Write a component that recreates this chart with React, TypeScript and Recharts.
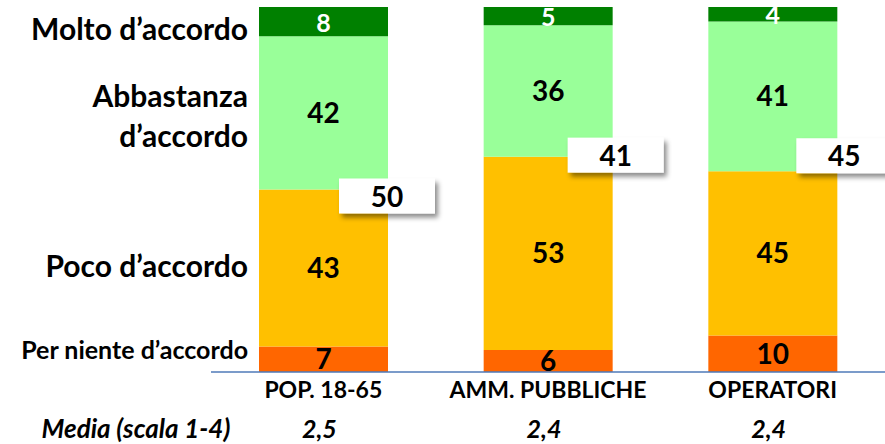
import React from "react"
import { BarChart, Bar, XAxis, YAxis, LabelList } from "recharts"

const categories = ["POP. 18-65", "AMM. PUBBLICHE", "OPERATORI"]
const perNiente = [7, 6, 10]
const poco = [43, 53, 45]
const abbastanza = [42, 36, 41]
const molto = [8, 5, 4]
const accordoTot = [50, 41, 45]
const media = ["2,5", "2,4", "2,4"]
const mediaTitle = "Media (scala 1-4)"

const data = categories.map((cat, i) => ({
  cat,
  perNiente: perNiente[i],
  poco: poco[i],
  abbastanza: abbastanza[i],
  molto: molto[i],
  tot: accordoTot[i],
}))

const FONT = "Lato, 'Noto Sans', sans-serif"

// series look + where the name sits next to the first bar
const series = [
  { key: "perNiente", lines: ["Per niente d’accordo"], fill: "#FF6600", color: "#000", size: 28, nameSize: 25, nameDy: [0] },
  { key: "poco", lines: ["Poco d’accordo"], fill: "#FFC000", color: "#000", size: 28, nameSize: 30, nameDy: [9] },
  { key: "abbastanza", lines: ["Abbastanza", "d’accordo"], fill: "#99FF99", color: "#000", size: 28, nameSize: 30, nameDy: [-6, 34] },
  { key: "molto", lines: ["Molto d’accordo"], fill: "#008000", color: "#fff", size: 25, nameSize: 30, nameDy: [18] },
]

// hand placement of the total boxes, relative to the top of the yellow segment
const boxShift = [
  { dx: -49, dy: -11 },
  { dx: -45, dy: -19 },
  { dx: -41, dy: -33 },
]

const segLabel = (s: typeof series[number]) => (p: any) => {
  const x = Number(p.x), y = Number(p.y), w = Number(p.width), h = Number(p.height)
  const cy = y + h / 2
  return (
    <g>
      <text x={x + w / 2} y={cy + 10} textAnchor="middle" fontFamily={FONT} fontWeight={700} fontSize={s.size} fill={s.color}>
        {p.value}
      </text>
      {p.index === 0 &&
        s.lines.map((ln, k) => (
          <text key={k} x={x - 11} y={cy + s.nameDy[k]} textAnchor="end" fontFamily={FONT} fontWeight={700} fontSize={s.nameSize} fill="#000">
            {ln}
          </text>
        ))}
    </g>
  )
}

const BoxLabel = (p: any) => {
  const x = Number(p.x), y = Number(p.y), w = Number(p.width), h = Number(p.height)
  const sh = boxShift[p.index] || { dx: -45, dy: -18 }
  const bx = x + w + sh.dx
  const by = y + h + sh.dy
  const id = `shadow${p.index}`
  return (
    <g>
      <defs>
        <filter id={id} x="-20%" y="-30%" width="150%" height="180%">
          <feDropShadow dx="3" dy="4" stdDeviation="2.5" floodColor="#000" floodOpacity="0.45" />
        </filter>
      </defs>
      <rect x={bx} y={by} width={96} height={35} fill="#fff" filter={`url(#${id})`} />
      <text x={bx + 48} y={by + 28} textAnchor="middle" fontFamily={FONT} fontWeight={700} fontSize={28} fill="#000">
        {p.value}
      </text>
    </g>
  )
}

const CatTick = (p: any) => {
  const { x, y, payload } = p
  const i = payload.index
  return (
    <g>
      <text x={x} y={y + 26} textAnchor="middle" fontFamily={FONT} fontWeight={700} fontSize={23} fill="#000">
        {payload.value}
      </text>
      <text x={x - 4} y={y + 66} textAnchor="middle" fontFamily={FONT} fontWeight={700} fontStyle="italic" fontSize={25} fill="#000">
        {media[i]}
      </text>
      {i === 0 && (
        <text x={x - 93} y={y + 66} textAnchor="end" fontFamily={FONT} fontWeight={700} fontStyle="italic" fontSize={26} fill="#000">
          {mediaTitle}
        </text>
      )}
    </g>
  )
}

export default function App() {
  return (
    <div style={{ position: "absolute", left: 0, top: 0, background: "#fff" }}>
      <BarChart width={885} height={444} data={data} margin={{ top: 7, right: 0, bottom: 0, left: 211 }} barCategoryGap={0}>
        <XAxis
          dataKey="cat"
          axisLine={{ stroke: "#4F7AB8", strokeWidth: 1.5 }}
          tickLine={false}
          tickSize={0}
          tickMargin={0}
          tick={<CatTick />}
          interval={0}
          height={72}
        />
        <YAxis hide domain={[0, 100]} />
        {series.map((s) => (
          <Bar key={s.key} dataKey={s.key} stackId="a" fill={s.fill} barSize={129} isAnimationActive={false}>
            <LabelList dataKey={s.key} content={segLabel(s)} />
            {s.key === "abbastanza" && <LabelList dataKey="tot" content={BoxLabel} />}
          </Bar>
        ))}
      </BarChart>
    </div>
  )
}
